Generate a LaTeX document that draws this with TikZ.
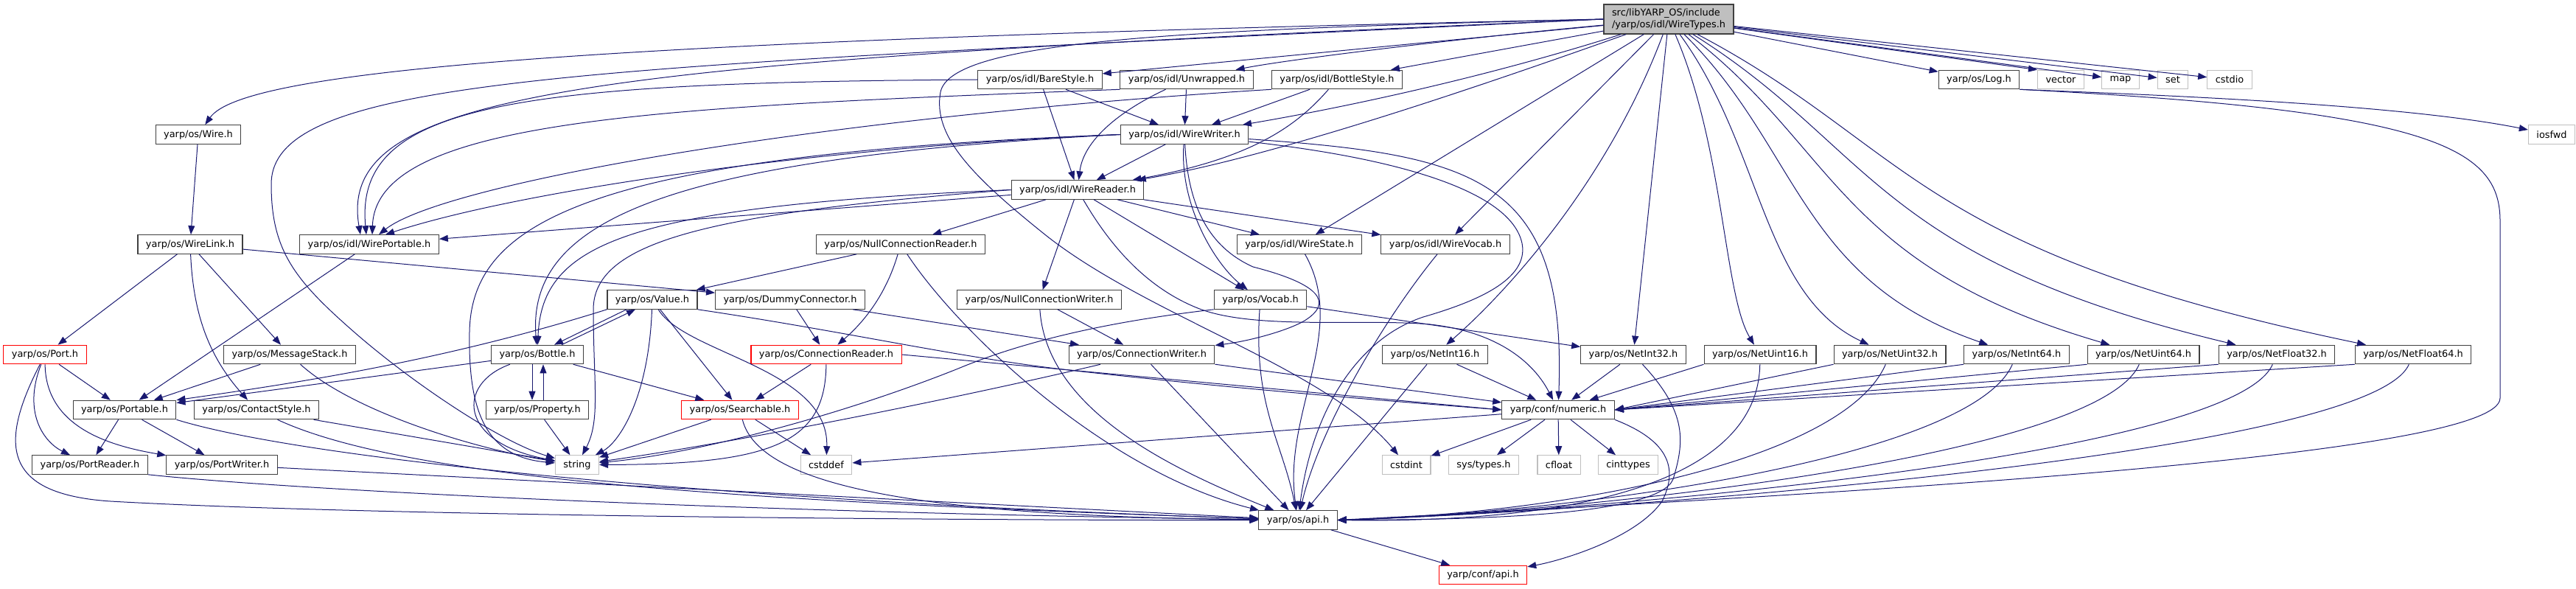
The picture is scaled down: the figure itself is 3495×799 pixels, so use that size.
\documentclass[tikz,border=0pt]{standalone}
\usepackage{fontspec}
\setmainfont{DejaVu Sans}
\usepackage{xcolor}
\usepackage{tikz}
\usetikzlibrary{arrows.meta}
\definecolor{edgeblue}{HTML}{191970}
\definecolor{boxline}{HTML}{404040}
\definecolor{sysline}{HTML}{BFBFBF}
\definecolor{rootfill}{HTML}{BFBFBF}

\begin{document}
\begin{tikzpicture}[x=1pt,y=-1pt,font=\fontsize{12.9}{15.5}\selectfont,
  hfile/.style={draw=boxline,fill=white,line width=1.1pt,minimum height=25.5pt,inner xsep=11pt,inner ysep=0pt},
  sysfile/.style={hfile,draw=sysline},
  trunc/.style={hfile,draw=red},
  rootfile/.style={hfile,fill=rootfill,minimum height=40pt,align=left},
  dep/.style={draw=edgeblue,line width=1pt,-{Triangle[length=12pt,width=9pt]}}]
\useasboundingbox (0,0) rectangle (3495,799);
\node[rootfile] (wiretypes) at (2264,26) {src/libYARP\_OS/include\\/yarp/os/idl/WireTypes.h};
\node[hfile] (barestyle) at (1411,108) {yarp/os/idl/BareStyle.h};
\node[hfile] (unwrapped) at (1610,108) {yarp/os/idl/Unwrapped.h};
\node[hfile] (bottlestyle) at (1814,108) {yarp/os/idl/BottleStyle.h};
\node[hfile] (log) at (2685,108) {yarp/os/Log.h};
\node[sysfile] (vector) at (2796,108) {vector};
\node[sysfile] (map) at (2877,108) {map};
\node[sysfile] (set) at (2948,108) {set};
\node[sysfile] (cstdio) at (3025,108) {cstdio};
\node[hfile] (wire) at (269,182.5) {yarp/os/Wire.h};
\node[hfile] (wirewriter) at (1607,182.5) {yarp/os/idl/WireWriter.h};
\node[sysfile] (iosfwd) at (3462,182.5) {iosfwd};
\node[hfile] (wirereader) at (1462,257.5) {yarp/os/idl/WireReader.h};
\node[hfile] (wirelink) at (258,331.5) {yarp/os/WireLink.h};
\node[hfile] (wireportable) at (501,331.5) {yarp/os/idl/WirePortable.h};
\node[hfile] (nullconnreader) at (1222,331.5) {yarp/os/NullConnectionReader.h};
\node[hfile] (wirestate) at (1763,331.5) {yarp/os/idl/WireState.h};
\node[hfile] (wirevocab) at (1961,331.5) {yarp/os/idl/WireVocab.h};
\node[hfile] (value) at (885,406.5) {yarp/os/Value.h};
\node[hfile] (dummyconn) at (1072,406.5) {yarp/os/DummyConnector.h};
\node[hfile] (nullconnwriter) at (1410,406.5) {yarp/os/NullConnectionWriter.h};
\node[hfile] (vocab) at (1710,406.5) {yarp/os/Vocab.h};
\node[trunc] (port) at (61,481) {yarp/os/Port.h};
\node[hfile] (messagestack) at (393,481) {yarp/os/MessageStack.h};
\node[hfile] (bottle) at (729,481) {yarp/os/Bottle.h};
\node[trunc] (connreader) at (1121,481) {yarp/os/ConnectionReader.h};
\node[hfile] (connwriter) at (1549,481) {yarp/os/ConnectionWriter.h};
\node[hfile] (netint16) at (1947,481) {yarp/os/NetInt16.h};
\node[hfile] (netint32) at (2216,481) {yarp/os/NetInt32.h};
\node[hfile] (netuint16) at (2388,481) {yarp/os/NetUint16.h};
\node[hfile] (netuint32) at (2564,481) {yarp/os/NetUint32.h};
\node[hfile] (netint64) at (2736,481) {yarp/os/NetInt64.h};
\node[hfile] (netuint64) at (2908,481) {yarp/os/NetUint64.h};
\node[hfile] (netfloat32) at (3089,481) {yarp/os/NetFloat32.h};
\node[hfile] (netfloat64) at (3274,481) {yarp/os/NetFloat64.h};
\node[hfile] (portable) at (169,556) {yarp/os/Portable.h};
\node[hfile] (contactstyle) at (348,556) {yarp/os/ContactStyle.h};
\node[hfile] (property) at (729,556) {yarp/os/Property.h};
\node[trunc] (searchable) at (1004,556) {yarp/os/Searchable.h};
\node[hfile] (numeric) at (2114,556) {yarp/conf/numeric.h};
\node[hfile] (portreader) at (122,630.5) {yarp/os/PortReader.h};
\node[hfile] (portwriter) at (301,630.5) {yarp/os/PortWriter.h};
\node[sysfile] (string) at (783,630.5) {string};
\node[sysfile] (cstddef) at (1121,630.5) {cstddef};
\node[sysfile] (cstdint) at (1908,630.5) {cstdint};
\node[sysfile] (systypes) at (2013,630.5) {sys/types.h};
\node[sysfile] (cfloat) at (2115,630.5) {cfloat};
\node[sysfile] (cinttypes) at (2209,630.5) {cinttypes};
\node[hfile] (osapi) at (1761,705.5) {yarp/os/api.h};
\node[trunc] (confapi) at (2012,780) {yarp/conf/api.h};
\draw[dep] (wiretypes.west) .. controls (800,55) and (330,95) .. (wire);
\draw[dep] (wiretypes.west) .. controls (800,92) and (368,100) .. (368,250) .. controls (368,340) and (400,380) .. (480,450) .. controls (560,520) and (680,600) .. (string);
\draw[dep] (wiretypes.west) .. controls (800,85) and (455,120) .. ([xshift=-12pt]wireportable.north);
\draw[dep] (wiretypes) -- (barestyle);
\draw[dep] (wiretypes) .. controls (2000,50) and (1750,80) .. (unwrapped);
\draw[dep] (wiretypes) -- (bottlestyle);
\draw[dep] (wiretypes) .. controls (2000,110) and (1800,150) .. (wirewriter);
\draw[dep] (wiretypes) .. controls (2000,120) and (1720,215) .. (wirereader);
\draw[dep] (wiretypes) -- (wirestate);
\draw[dep] (wiretypes) -- (wirevocab);
\draw[dep] (wiretypes) .. controls (2180,250) and (2040,400) .. (netint16);
\draw[dep] (wiretypes) -- (netint32);
\draw[dep] (wiretypes) .. controls (2339,200) and (2339,400) .. (netuint16);
\draw[dep] (wiretypes) .. controls (2391,200) and (2391,400) .. (netuint32);
\draw[dep] (wiretypes) .. controls (2441,200) and (2441,380) .. (netint64);
\draw[dep] (wiretypes) .. controls (2492,200) and (2492,360) .. (netuint64);
\draw[dep] (wiretypes) .. controls (2542,200) and (2542,350) .. (netfloat32);
\draw[dep] (wiretypes) .. controls (2594,200) and (2594,340) .. (netfloat64);
\draw[dep] (wiretypes) -- (log);
\draw[dep] (wiretypes) -- (vector.north west);
\draw[dep] (wiretypes) -- (map);
\draw[dep] (wiretypes) -- (set);
\draw[dep] (wiretypes) -- (cstdio);
\draw[dep] (wiretypes.west) .. controls (1600,40) and (1290,55) .. (1276,125) .. controls (1265,185) and (1320,240) .. (1420,320) .. controls (1560,430) and (1800,500) .. (cstdint);
\draw[dep] (log.south east) .. controls (2900,128) and (3250,140) .. (iosfwd);
\draw[dep] (log.south east) .. controls (3300,150) and (3392,200) .. (3392,300) -- (3392,540) .. controls (3392,620) and (2500,670) .. (osapi.east);
\draw[dep] (wire) -- (wirelink);
\draw[dep] (wirelink) -- (port);
\draw[dep] (wirelink) .. controls (262,420) and (280,480) .. (contactstyle);
\draw[dep] (wirelink) -- (messagestack);
\draw[dep] (wirelink) -- (dummyconn);
\draw[dep] (wireportable) -- (portable);
\draw[dep] (barestyle.west) .. controls (700,112) and (480,140) .. ([xshift=-4pt]wireportable.north);
\draw[dep] (barestyle) -- (wirewriter);
\draw[dep] (barestyle) -- (wirereader);
\draw[dep] (unwrapped.south west) .. controls (900,145) and (510,160) .. ([xshift=4pt]wireportable.north);
\draw[dep] (unwrapped) -- (wirewriter);
\draw[dep] (unwrapped) .. controls (1520,150) and (1470,190) .. (wirereader);
\draw[dep] (bottlestyle.south west) .. controls (1100,160) and (600,250) .. ([xshift=13pt]wireportable.north);
\draw[dep] (bottlestyle) -- (wirewriter);
\draw[dep] (bottlestyle) .. controls (1760,170) and (1700,215) .. (wirereader);
\draw[dep] (wirewriter) -- (wirereader);
\draw[dep] (wirewriter.west) .. controls (1100,200) and (700,260) .. ([xshift=22pt]wireportable.north);
\draw[dep] (wirewriter.west) .. controls (900,215) and (715,300) .. (bottle);
\draw[dep] (wirewriter.west) .. controls (800,210) and (640,300) .. (637,450) .. controls (635,560) and (660,620) .. (string);
\draw[dep] (wirewriter) .. controls (1600,280) and (1650,360) .. (vocab);
\draw[dep] (wirewriter) .. controls (2000,210) and (2126,240) .. (numeric);
\draw[dep] (wirewriter) .. controls (1612,280) and (1640,335) .. (1700,362) .. controls (1790,385) and (1810,410) .. (1770,435) .. controls (1750,447) and (1700,462) .. (connwriter);
\draw[dep] (wirewriter) .. controls (1900,215) and (2050,260) .. (2065,330) .. controls (2075,380) and (2000,410) .. (1931,430) .. controls (1840,460) and (1780,560) .. (osapi);
\draw[dep] (wirereader) -- (wireportable);
\draw[dep] (wirereader.west) .. controls (850,280) and (735,330) .. (bottle);
\draw[dep] (wirereader.west) .. controls (950,290) and (805,330) .. (805,420) .. controls (805,520) and (815,570) .. (string);
\draw[dep] (wirereader) -- (nullconnreader);
\draw[dep] (wirereader) -- (nullconnwriter);
\draw[dep] (wirereader) -- (vocab);
\draw[dep] (wirereader) -- (wirestate);
\draw[dep] (wirereader) -- (wirevocab);
\draw[dep] (wirereader) .. controls (1510,340) and (1560,392) .. (1625,418) .. controls (1700,448) and (1850,432) .. (1940,440) .. controls (2030,450) and (2080,490) .. (numeric);
\draw[dep] (nullconnreader) -- (value);
\draw[dep] (nullconnreader) .. controls (1205,390) and (1180,430) .. (connreader);
\draw[dep] (nullconnreader) .. controls (1300,450) and (1500,640) .. (osapi);
\draw[dep] (nullconnwriter) -- (connwriter);
\draw[dep] (nullconnwriter) .. controls (1420,560) and (1600,640) .. (osapi);
\draw[dep] (dummyconn) -- (connreader);
\draw[dep] (dummyconn) -- (connwriter);
\draw[dep] (vocab) -- (netint32);
\draw[dep] (vocab.south west) .. controls (1560,430) and (1420,450) .. (1300,500) .. controls (1150,560) and (950,615) .. (string);
\draw[dep] (vocab) .. controls (1700,550) and (1740,600) .. (osapi);
\draw[dep] (wirestate) .. controls (1830,450) and (1740,560) .. (osapi);
\draw[dep] (wirevocab) .. controls (1880,430) and (1790,580) .. (osapi);
\draw[dep] ([xshift=-35pt]value.south) -- ([xshift=23pt]bottle.north);
\draw[dep] ([xshift=33pt]bottle.north) -- ([xshift=-23pt]value.south);
\draw[dep] (value) .. controls (880,540) and (840,600) .. (string);
\draw[dep] (value) -- (searchable);
\draw[dep] (value) .. controls (930,480) and (1125,500) .. (cstddef);
\draw[dep] (value.south west) .. controls (600,490) and (400,520) .. (portable.north east);
\draw[dep] (value.south east) .. controls (1150,450) and (1300,485) .. (1450,502) .. controls (1700,530) and (1900,545) .. (numeric.west);
\draw[dep] ([xshift=-7pt]bottle.south) -- ([xshift=-7pt]property.north);
\draw[dep] ([xshift=8pt]property.north) -- ([xshift=8pt]bottle.south);
\draw[dep] (bottle) .. controls (620,520) and (620,600) .. (string);
\draw[dep] (bottle) -- (searchable);
\draw[dep] (bottle) -- (portable);
\draw[dep] (property) -- (string);
\draw[dep] (searchable) -- (string);
\draw[dep] (searchable) -- (cstddef);
\draw[dep] (searchable) .. controls (1030,660) and (1250,700) .. (osapi);
\draw[dep] (connreader) -- (searchable);
\draw[dep] (connreader) .. controls (1120,600) and (1050,630) .. (string);
\draw[dep] (connreader.east) -- (numeric.west);
\draw[dep] (connwriter) .. controls (1300,540) and (1000,600) .. (string);
\draw[dep] (connwriter) -- (numeric);
\draw[dep] (connwriter) -- (osapi);
\draw[dep] (port) -- (portable);
\draw[dep] (port) .. controls (30,560) and (60,600) .. (portreader);
\draw[dep] (port) .. controls (62,580) and (150,605) .. (portwriter);
\draw[dep] (port) .. controls (0,600) and (0,670) .. (150,680) .. controls (500,700) and (1300,706) .. (osapi);
\draw[dep] (portable) -- (portreader);
\draw[dep] (portable) -- (portwriter);
\draw[dep] (portable.south east) .. controls (420,625) and (1000,680) .. (osapi);
\draw[dep] (portreader.south east) .. controls (400,665) and (1000,695) .. (osapi);
\draw[dep] (portwriter) -- (osapi);
\draw[dep] (contactstyle) -- (string);
\draw[dep] (contactstyle) .. controls (550,650) and (1000,680) .. (osapi);
\draw[dep] (messagestack) -- (portable);
\draw[dep] (messagestack) .. controls (480,560) and (650,610) .. (string);
\draw[dep] (netint16) -- (numeric);
\draw[dep] (netint16) -- (osapi);
\draw[dep] (netint32) -- (numeric);
\draw[dep] (netint32) .. controls (2290,560) and (2285,600) .. (2270,650) .. controls (2250,700) and (2000,705) .. (osapi.east);
\draw[dep] (netuint16.south west) -- (numeric);
\draw[dep] (netuint16) .. controls (2385,650) and (2150,710) .. (osapi.east);
\draw[dep] (netuint32.south west) -- (numeric.east);
\draw[dep] (netuint32) .. controls (2504,620) and (2150,695) .. (osapi.east);
\draw[dep] (netint64.south west) -- (numeric.east);
\draw[dep] (netint64) .. controls (2676,620) and (2150,695) .. (osapi.east);
\draw[dep] (netuint64.south west) -- (numeric.east);
\draw[dep] (netuint64) .. controls (2848,620) and (2150,695) .. (osapi.east);
\draw[dep] (netfloat32.south west) -- (numeric.east);
\draw[dep] (netfloat32) .. controls (3029,620) and (2150,695) .. (osapi.east);
\draw[dep] (netfloat64.south west) -- (numeric.east);
\draw[dep] (netfloat64) .. controls (3214,620) and (2150,695) .. (osapi.east);
\draw[dep] (numeric) -- (cstdint);
\draw[dep] (numeric) -- (systypes);
\draw[dep] (numeric) -- (cfloat);
\draw[dep] (numeric) -- (cinttypes);
\draw[dep] (numeric) -- (cstddef);
\draw[dep] (numeric.south east) .. controls (2270,600) and (2275,640) .. (2255,680) .. controls (2220,730) and (2120,760) .. (confapi);
\draw[dep] (osapi) -- (confapi);
\end{tikzpicture}
\end{document}
